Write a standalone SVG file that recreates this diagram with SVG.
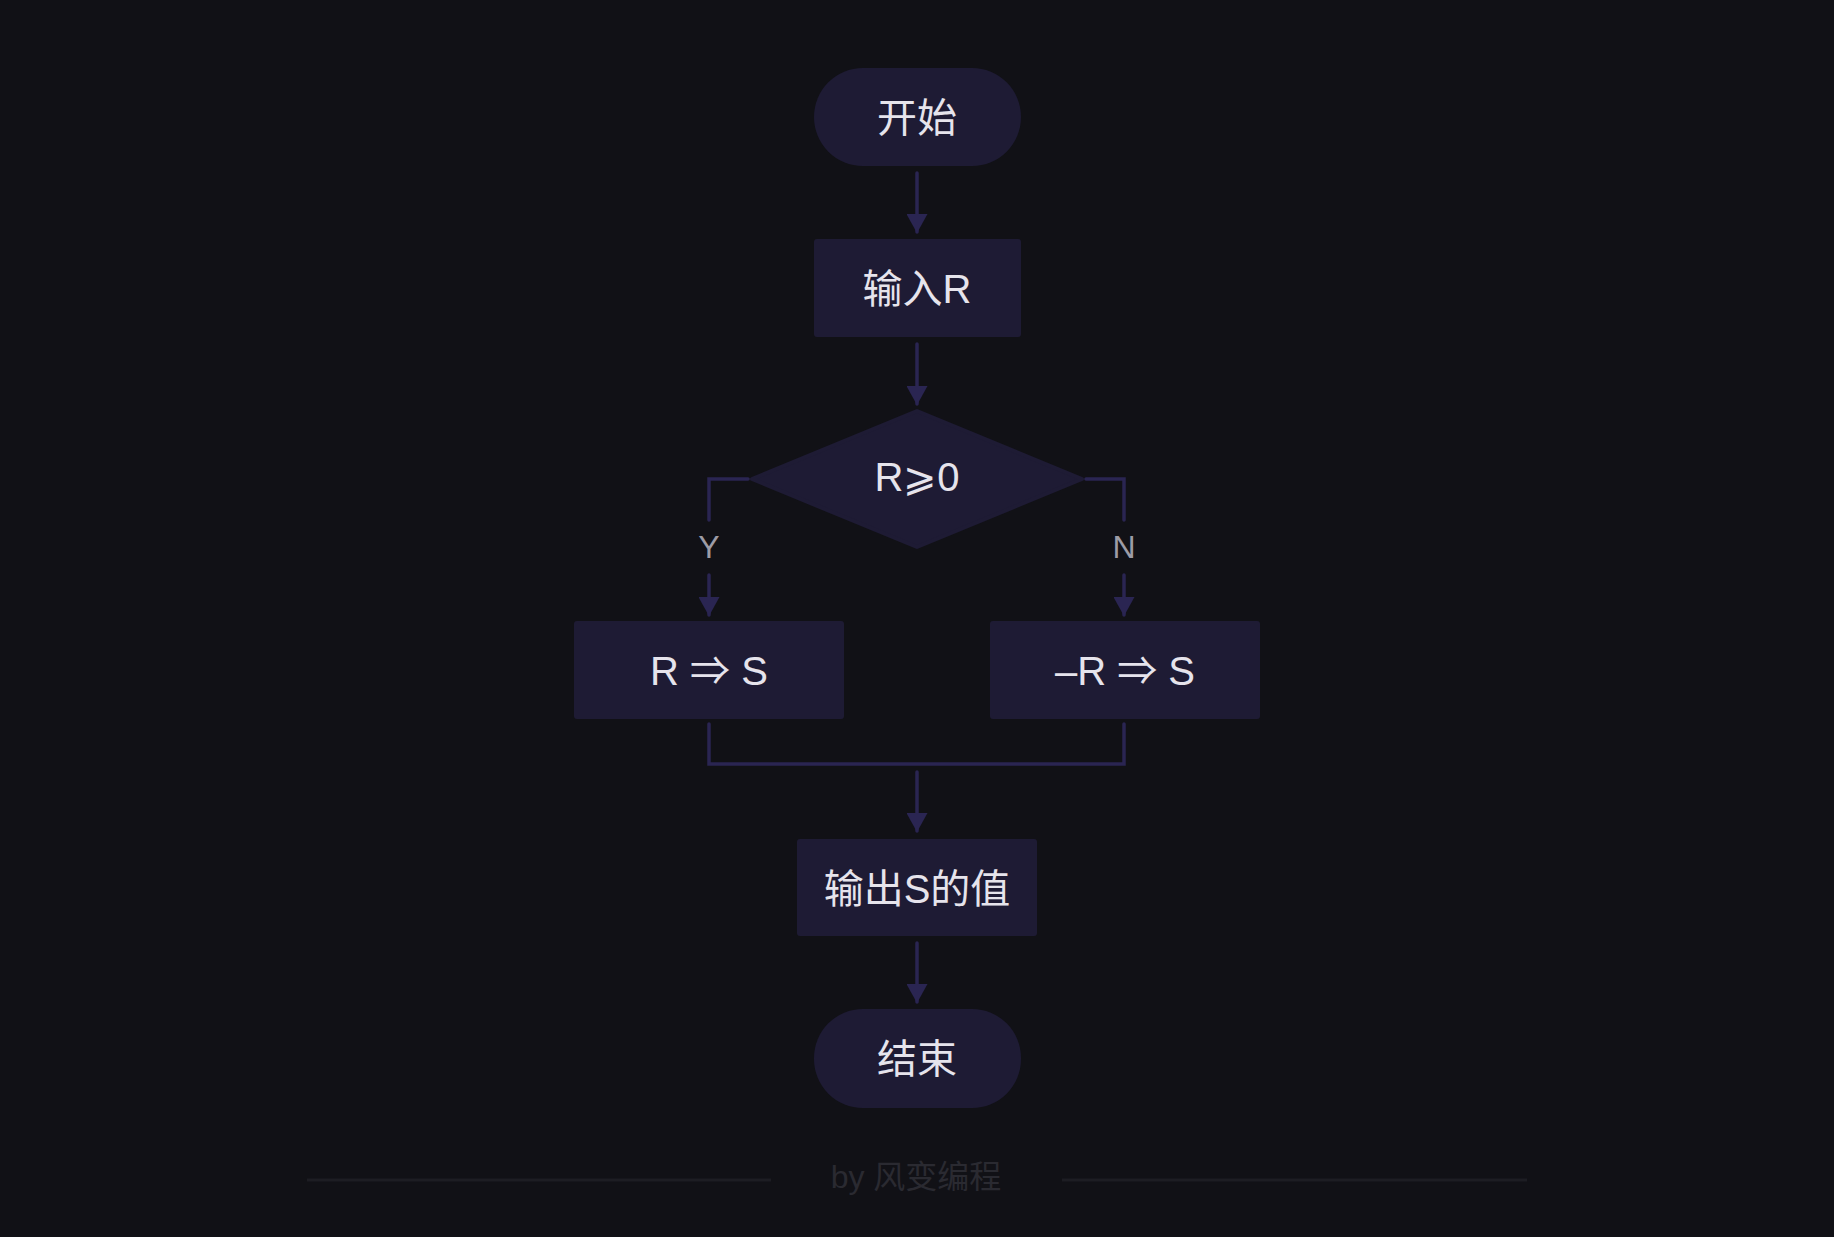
<svg xmlns="http://www.w3.org/2000/svg" width="1834" height="1237" viewBox="0 0 1834 1237">
<style>
.node{fill:#1e1b34}
.lbl{font-family:"Liberation Sans","Noto Sans CJK SC",sans-serif;font-size:40px;fill:#e6e4ec;text-anchor:middle;dominant-baseline:central}
.edge{fill:none;stroke:#2a2552;stroke-width:3.5;stroke-linecap:round;stroke-linejoin:miter}
.yn{font-family:"Liberation Sans","Noto Sans CJK SC",sans-serif;font-size:32px;fill:#9d9ca6;text-anchor:middle;dominant-baseline:central}
.foot{stroke:#1d1d23;stroke-width:3}
</style>
<defs>
<marker id="arr" markerUnits="userSpaceOnUse" markerWidth="19" markerHeight="21" viewBox="0 0 19 21" refX="18" refY="10.5" orient="auto">
<path d="M0,0 L19,10.5 L0,21 z" fill="#2a2552"/>
</marker>
</defs>
<rect width="1834" height="1237" fill="#111116"/>
<g id="connectors">
<path class="edge" d="M917,173 V232" marker-end="url(#arr)"/>
<path class="edge" d="M917,344 V404" marker-end="url(#arr)"/>
<path class="edge" d="M748,479 H709 V520"/>
<path class="edge" d="M709,575 V615" marker-end="url(#arr)"/>
<path class="edge" d="M1086,479 H1124 V520"/>
<path class="edge" d="M1124,575 V615" marker-end="url(#arr)"/>
<path class="edge" d="M709,724 V764 H1124 V724"/>
<path class="edge" d="M917,772 V831" marker-end="url(#arr)"/>
<path class="edge" d="M917,943 V1002" marker-end="url(#arr)"/>
<text class="yn" x="709" y="547">Y</text>
<text class="yn" x="1124" y="547">N</text>
</g>
<g id="start">
<rect class="node" x="814" y="68" width="207" height="98" rx="49"/>
<text class="lbl" x="917" y="118">开始</text>
</g>
<g id="input">
<rect class="node" x="814" y="239" width="207" height="98" rx="3"/>
<text class="lbl" x="917" y="289">输入R</text>
</g>
<g id="decision">
<polygon class="node" points="917,411 1082,479 917,547 752,479" stroke="#1e1b34" stroke-width="4" stroke-linejoin="round"/>
<text class="lbl" x="917" y="477">R⩾0</text>
</g>
<g id="yes">
<rect class="node" x="574" y="621" width="270" height="98" rx="3"/>
<text class="lbl" x="709" y="671" xml:space="preserve">R ⇒ S</text>
</g>
<g id="no">
<rect class="node" x="990" y="621" width="270" height="98" rx="3"/>
<text class="lbl" x="1125" y="671" xml:space="preserve">–R ⇒ S</text>
</g>
<g id="output">
<rect class="node" x="797" y="839" width="240" height="97" rx="3"/>
<text class="lbl" x="917" y="889">输出S的值</text>
</g>
<g id="end">
<rect class="node" x="814" y="1009" width="207" height="99" rx="49"/>
<text class="lbl" x="917" y="1059">结束</text>
</g>
<g id="footer">
<line class="foot" x1="307" y1="1180" x2="771" y2="1180"/>
<line class="foot" x1="1062" y1="1180" x2="1527" y2="1180"/>
<text x="916" y="1177" font-family="Liberation Sans,Noto Sans CJK SC,sans-serif" font-size="32" fill="#2a2a31" text-anchor="middle" dominant-baseline="central">by 风变编程</text>
</g>
</svg>
